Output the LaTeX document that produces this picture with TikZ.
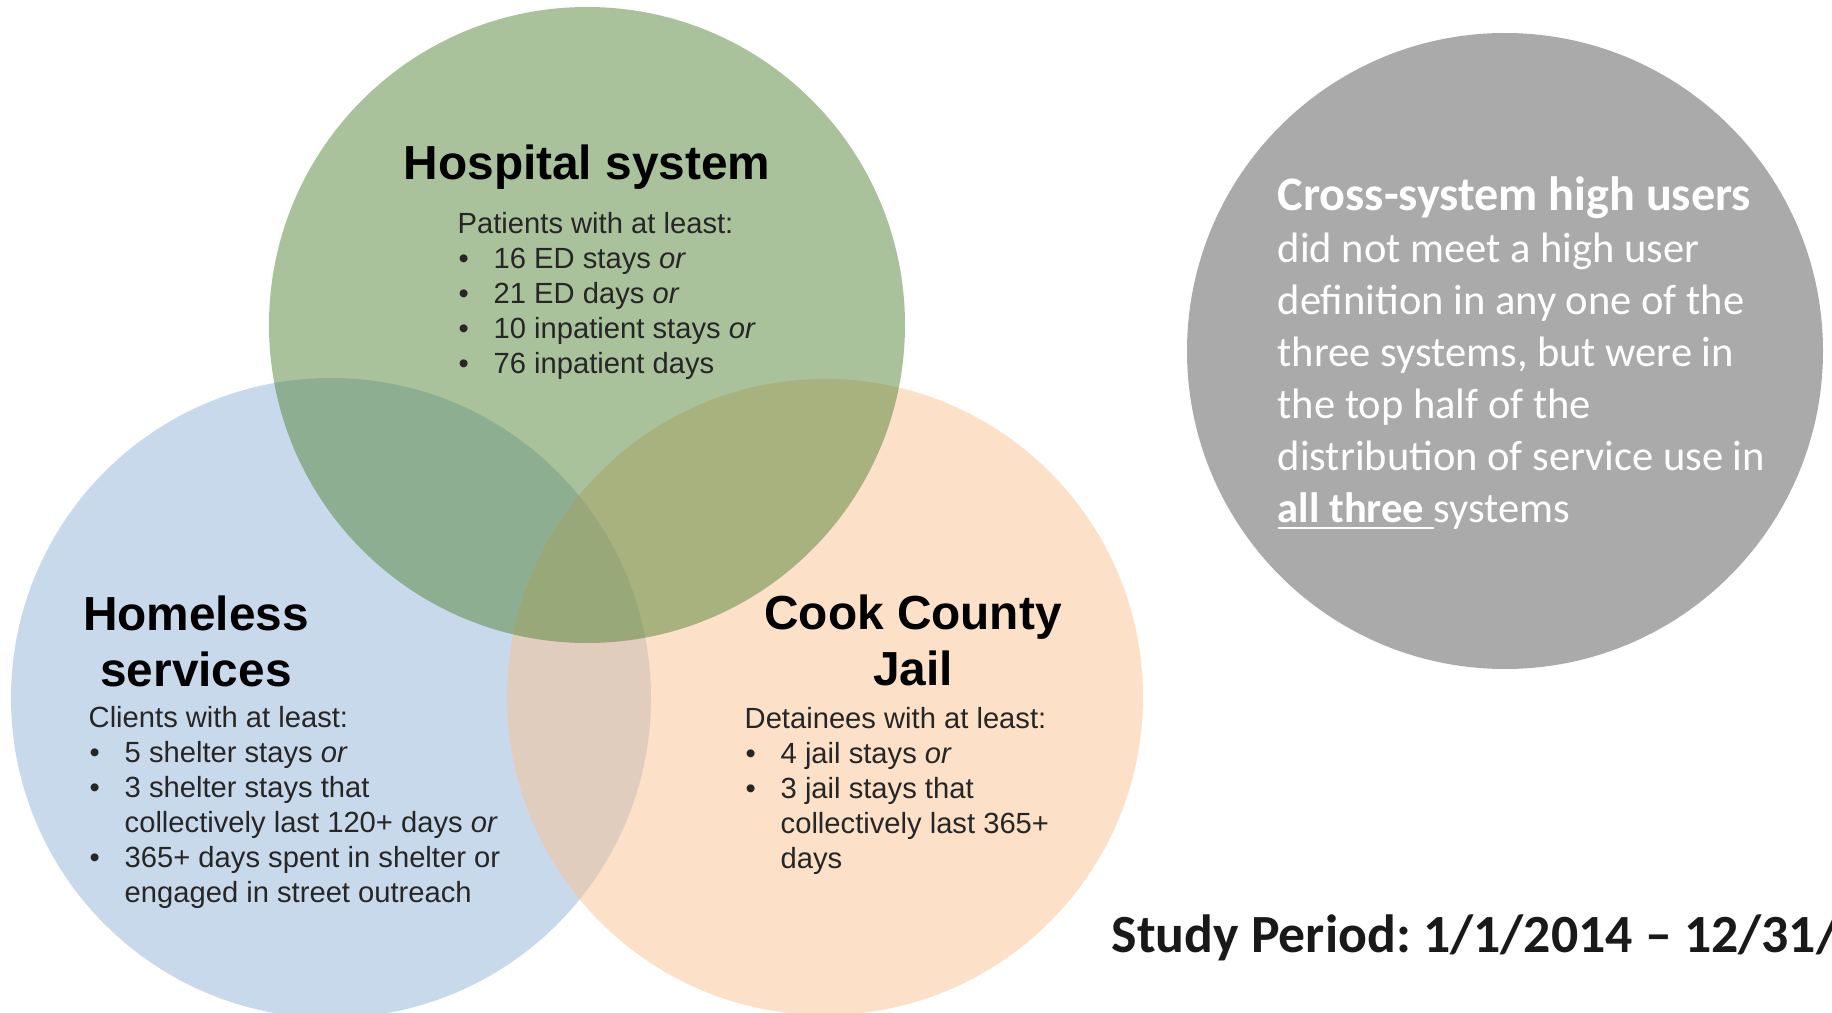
\documentclass[tikz,border=0pt]{standalone}
\usepackage{fontspec}
\setmainfont{Liberation Sans}
\newfontfamily\calibri{Carlito}
\usetikzlibrary{positioning}

\definecolor{hospgreen}{RGB}{83,133,55}
\definecolor{homeblue}{RGB}{147,179,217}
\definecolor{jailorange}{RGB}{249,193,145}
\definecolor{crossgray}{RGB}{170,170,170}

% bullet and hanging indent for the criteria lists
\newcommand{\itm}{\makebox[0.36cm][l]{\hspace{0.01cm}\textbullet}}
\newcommand{\cont}{\hspace*{0.36cm}}

\begin{document}
\frenchspacing
\begin{tikzpicture}
	\tikzstyle{venn} = [circle, minimum size=6.36cm, inner sep=0pt, fill opacity=0.5, draw=none]
	\tikzstyle{head} = [font=\fontsize{13.6}{16}\selectfont\bfseries, align=center, inner sep=0pt]
	\tikzstyle{crit} = [font=\fontsize{8.3}{9.96}\selectfont, align=left, inner sep=0pt, text=black!85]
	\useasboundingbox (0,0) rectangle (18.32,-10.13);
	% the three systems, green one drawn last so it sits on top
	\node (home) [venn, fill=homeblue, minimum size=6.4cm] at (3.31,-6.98) {};
	\node (jail) [venn, fill=jailorange] at (8.25,-6.97) {};
	\node (hosp) [venn, fill=hospgreen] at (5.87,-3.25) {};
	\node (cross) [circle, minimum size=6.36cm, inner sep=0pt, fill=crossgray] at (15.05,-3.51) {};

	\node (hosphead) [head, anchor=base] at (5.87,-1.79) {Hospital system};
	\node (hosplist) [crit, anchor=north west] at (4.57,-2.12) {Patients with at least:\\
		\itm 16 ED stays \textit{or}\\
		\itm 21 ED days \textit{or}\\
		\itm 10 inpatient stays \textit{or}\\
		\itm 76 inpatient days};

	\node (homehead) [head, anchor=north] at (1.96,-5.95) {Homeless\\services};
	\node (homelist) [crit, anchor=north west] at (0.88,-7.06) {Clients with at least:\\
		\itm 5 shelter stays \textit{or}\\
		\itm 3 shelter stays that\\
		\cont collectively last 120+ days \textit{or}\\
		\itm 365+ days spent in shelter or\\
		\cont engaged in street outreach};

	\node (jailhead) [head, anchor=north] at (9.13,-5.94) {Cook County\\Jail};
	\node (jaillist) [crit, anchor=north west] at (7.44,-7.07) {Detainees with at least:\\
		\itm 4 jail stays \textit{or}\\
		\itm 3 jail stays that\\
		\cont collectively last 365+\\
		\cont days};

	\node (crosstext) [anchor=north west, align=left, inner sep=0pt, text=white,
		font=\calibri\fontsize{12.1}{14.8}\selectfont] at (12.77,-1.76) {{\fontsize{13.7}{14.8}\selectfont\textbf{Cross-system high users}}\\
		did not meet a high user\\
		definition in any one of the\\
		three systems, but were in\\
		the top half of the\\
		distribution of service use in\\
		\underline{\textbf{all three}\ }systems};

	\node (period) [anchor=base west, inner sep=0pt, text=black!90,
		font=\calibri\fontsize{15.3}{18}\selectfont\bfseries] at (11.11,-9.52) {Study Period:\ 1/1/2014 \textendash{} 12/31/};
\end{tikzpicture}
\end{document}
